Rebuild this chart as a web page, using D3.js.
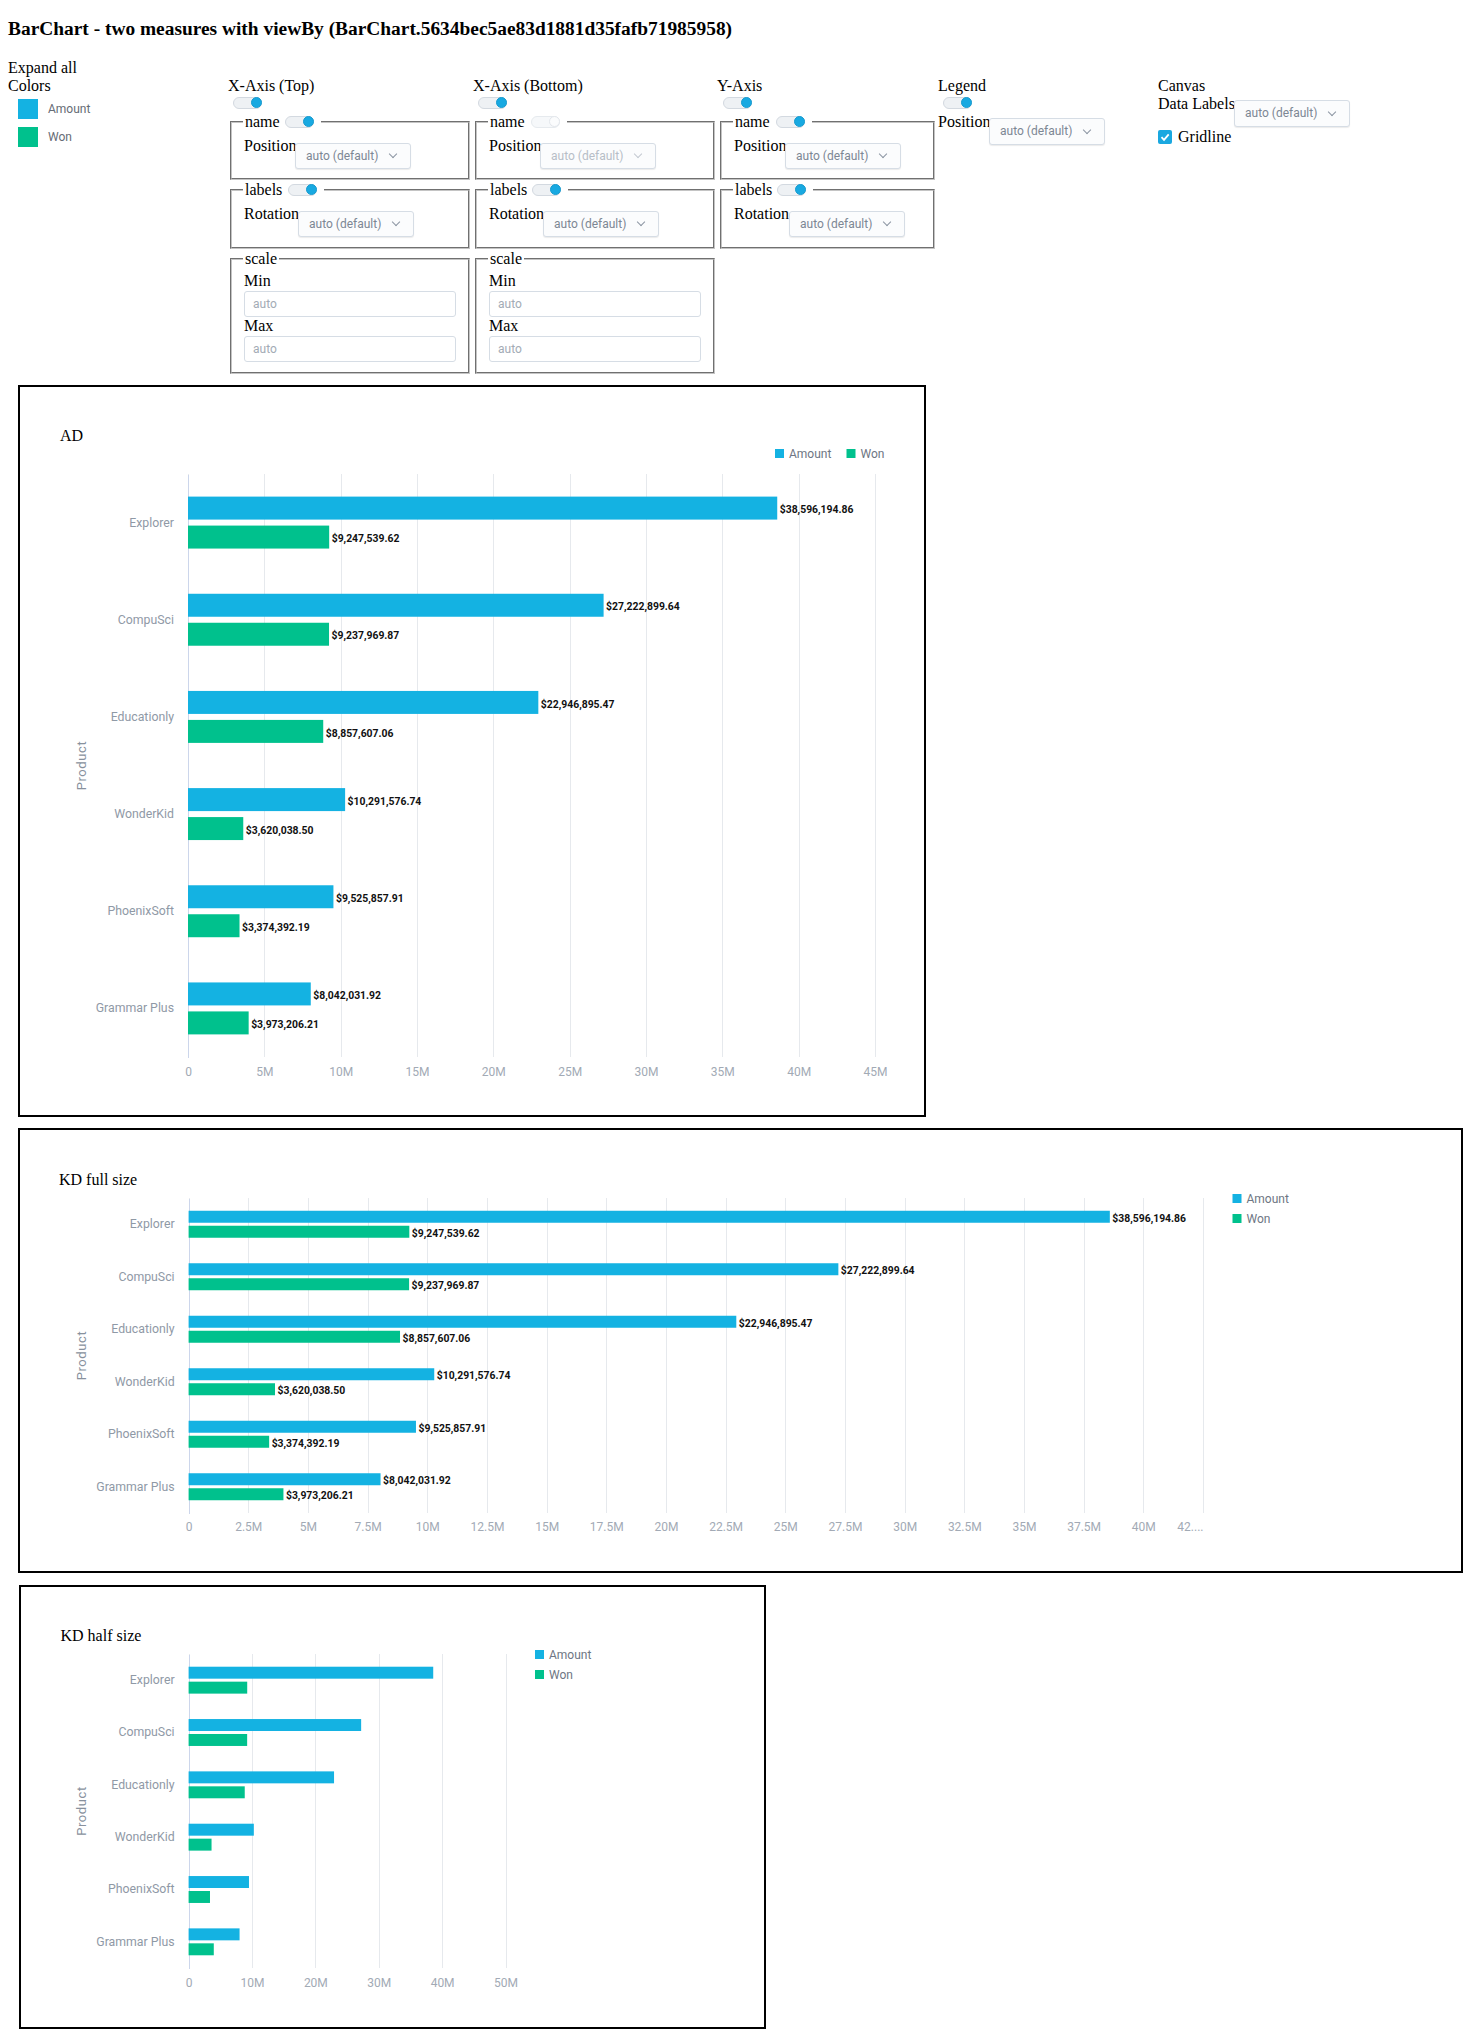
<!DOCTYPE html>
<html>
<head>
<meta charset="utf-8">
<script src="https://cdn.jsdelivr.net/npm/d3@7"></script>
<style>
  html, body { margin:0; padding:0; background:#fff; }
  body { position:relative; width:1464px; height:2040px; overflow:hidden; font-family:"Liberation Serif","Times New Roman",serif; }
  .abs { position:absolute; white-space:nowrap; }
  .ser { font-size:16px; line-height:18px; color:#000; }
  .title { font-size:19.4px; font-weight:bold; line-height:22px; }
  .tog { position:absolute; width:27px; height:10px; border:1px solid #d3d9e0; border-radius:6px; background:#eef1f4; }
  .tog .knob { position:absolute; right:-1px; top:-1px; width:11px; height:11px; border-radius:50%; background:#18a9e1; border:0.5px solid #169bd0; box-sizing:border-box; }
  .tog.off .knob { background:#fbfcfd; border:1px solid #e3e7ec; }
  .tog.off { background:#f6f8fa; border-color:#e6eaee; }
  .box { position:absolute; border:2px groove #c4c4c4; box-sizing:border-box; }
  .leg { position:absolute; background:#fff; padding:0 2px; font-size:16px; line-height:18px; }
  .sel { position:absolute; box-sizing:border-box; border:1px solid #d6dde5; border-radius:3px; background:#fbfcfd; box-shadow:0 1px 1px rgba(0,0,0,0.08); font-family:Roboto,sans-serif; font-size:12px; color:#7d8794; padding-left:10px; }
  .sel.dis { color:#b7bec7; }
  .sel .chev { position:absolute; right:14px; width:5px; height:5px; border-right:1px solid #8c96a2; border-bottom:1px solid #8c96a2; transform:rotate(45deg); }
  .sel.dis .chev { border-color:#c3c9d0; }
  .inp { position:absolute; box-sizing:border-box; border:1px solid #d6dde5; border-radius:3px; background:#fff; font-family:Roboto,sans-serif; font-size:12px; color:#a3abb5; padding-left:8px; }
  .sw { position:absolute; width:20px; height:20px; }
  .swl { position:absolute; font-family:Roboto,sans-serif; font-size:12px; color:#666c75; line-height:14px; }
  .chk { position:absolute; width:14px; height:14px; border-radius:2px; background:#1aa8e0; }
  svg#charts { position:absolute; left:0; top:0; }
</style>
</head>
<body>
<div id="ui"></div>
<svg id="charts" width="1464" height="2040"></svg>
<script>
// ---------------- DATA ----------------
const categories = ["Explorer", "CompuSci", "Educationly", "WonderKid", "PhoenixSoft", "Grammar Plus"];
const seriesNames = ["Amount", "Won"];
const amountValues = [38596194.86, 27222899.64, 22946895.47, 10291576.74, 9525857.91, 8042031.92];
const wonValues = [9247539.62, 9237969.87, 8857607.06, 3620038.50, 3374392.19, 3973206.21];
const seriesColors = ["#14B2E2", "#00C18D"];

const ticksAD = [0, 5e6, 10e6, 15e6, 20e6, 25e6, 30e6, 35e6, 40e6, 45e6];
const tickLabelsAD = ["0", "5M", "10M", "15M", "20M", "25M", "30M", "35M", "40M", "45M"];
const ticksFull = [0, 2.5e6, 5e6, 7.5e6, 10e6, 12.5e6, 15e6, 17.5e6, 20e6, 22.5e6, 25e6, 27.5e6, 30e6, 32.5e6, 35e6, 37.5e6, 40e6, 42.5e6];
const tickLabelsFull = ["0", "2.5M", "5M", "7.5M", "10M", "12.5M", "15M", "17.5M", "20M", "22.5M", "25M", "27.5M", "30M", "32.5M", "35M", "37.5M", "40M", "42...."];
const ticksHalf = [0, 10e6, 20e6, 30e6, 40e6, 50e6];
const tickLabelsHalf = ["0", "10M", "20M", "30M", "40M", "50M"];

const chartTitles = ["AD", "KD full size", "KD half size"];
const axisTitle = "Product";
const pageTitle = "BarChart - two measures with viewBy (BarChart.5634bec5ae83d1881d35fafb71985958)";

// ---------------- UI PANEL ----------------
const ui = d3.select("#ui");
function text(x, yc, s, cls, extra) {
  const e = ui.append("div").attr("class", "abs " + (cls || "ser")).style("left", x + "px").style("top", (yc - 9) + "px").text(s);
  if (extra) extra(e);
  return e;
}
function toggle(x, y, off) {
  const t = ui.append("div").attr("class", "tog" + (off ? " off" : "")).style("left", x + "px").style("top", y + "px");
  t.append("div").attr("class", "knob");
}
function select(x, y, w, h, dis) {
  const s = ui.append("div").attr("class", "sel" + (dis ? " dis" : "")).style("left", x + "px").style("top", y + "px")
    .style("width", w + "px").style("height", h + "px").style("line-height", (h - 2) + "px").text("auto (default)");
  s.append("div").attr("class", "chev").style("top", ((h - 2) / 2 - 5) + "px");
}
function input(x, y, w, h) {
  ui.append("div").attr("class", "inp").style("left", x + "px").style("top", y + "px")
    .style("width", w + "px").style("height", h + "px").style("line-height", (h - 2) + "px").text("auto");
}
function fieldset(x, y, w, h) {
  ui.append("div").attr("class", "box").style("left", x + "px").style("top", y + "px").style("width", w + "px").style("height", h + "px");
}
function legendLabel(x, yc, s, togX, togOff) {
  const w = ui.append("div").attr("class", "leg").style("left", x + "px").style("top", (yc - 9) + "px");
  w.append("span").text(s);
  w.append("span").style("display", "inline-block").style("width", (togX - x - 2 - measure(s) + 34) + "px");
  toggle(togX, yc - 6, togOff);
}
const meas = document.createElement("canvas").getContext("2d");
function measure(s) { meas.font = "16px 'Liberation Serif'"; return meas.measureText(s).width; }

ui.append("div").attr("class", "abs title").style("left", "8px").style("top", "18px").text(pageTitle);
text(8, 68, "Expand all");
text(8, 86, "Colors");
seriesNames.forEach((n, i) => {
  ui.append("div").attr("class", "sw").style("left", "18px").style("top", (99 + i * 28) + "px").style("background", seriesColors[i]);
  ui.append("div").attr("class", "swl").style("left", "48px").style("top", (102 + i * 28) + "px").text(n);
});

// columns
const cols = [
  { label: "X-Axis (Top)", lx: 228, tx: 233, fx: 230, fw: 240, nameTog: 285, namOff: false, posSel: [295, 143], labTog: 288, rotSel: [298, 211], scale: true },
  { label: "X-Axis (Bottom)", lx: 473, tx: 478, fx: 475, fw: 240, nameTog: 531, namOff: true, posSel: [540, 143], labTog: 532, rotSel: [543, 211], scale: true },
  { label: "Y-Axis", lx: 717, tx: 723, fx: 720, fw: 215, nameTog: 776, namOff: false, posSel: [785, 143], labTog: 777, rotSel: [789, 211], scale: false }
];
cols.forEach(c => {
  text(c.lx, 86, c.label);
  toggle(c.tx, 97, false);
  fieldset(c.fx, 121, c.fw, 59);
  legendLabel(c.fx + 13, 122, "name", c.nameTog, c.namOff);
  text(c.fx + 14, 146, "Position");
  select(c.posSel[0], c.posSel[1], 116, 26, c.namOff);
  fieldset(c.fx, 189, c.fw, 60);
  legendLabel(c.fx + 13, 190, "labels", c.labTog, false);
  text(c.fx + 14, 214, "Rotation");
  select(c.rotSel[0], c.rotSel[1], 116, 26, false);
  if (c.scale) {
    fieldset(c.fx, 258, c.fw, 116);
    ui.append("div").attr("class", "leg").style("left", (c.fx + 13) + "px").style("top", "250px").text("scale");
    text(c.fx + 14, 281, "Min");
    input(c.fx + 14, 291, 212, 26);
    text(c.fx + 14, 326, "Max");
    input(c.fx + 14, 336, 212, 26);
  }
});
// Legend column
text(938, 86, "Legend");
toggle(943, 97, false);
text(938, 122, "Position");
select(989, 118, 116, 27, false);
// Canvas column
text(1158, 86, "Canvas");
text(1158, 104, "Data Labels");
select(1234, 100, 116, 27, false);
const ck = ui.append("div").attr("class", "chk").style("left", "1158px").style("top", "130px");
ck.append("svg").attr("width", 14).attr("height", 14).append("path").attr("d", "M3.5 7.2 L6 9.8 L10.7 4.3")
  .attr("fill", "none").attr("stroke", "#fff").attr("stroke-width", 1.8);
text(1178, 137, "Gridline");

// ---------------- CHARTS ----------------
const svg = d3.select("#charts");
const rows = categories.map((c, i) => ({ cat: c, values: [amountValues[i], wonValues[i]] }));
const fmt = v => "$" + d3.format(",.2f")(v);

const configs = [
  { title: chartTitles[0], box: [19, 386, 906, 730], titlePos: [60, 435], xr: [188, 875], ticks: ticksAD, tickLabels: tickLabelsAD,
    yr: [474, 1057], innerPad: 0.207, outerPad: 0.78, legend: "h", legendPos: [775, 449], labels: true, tickY: 1072, prodX: 81 },
  { title: chartTitles[1], box: [19, 1129, 1443, 443], titlePos: [59, 1179], xr: [188.6, 1203], ticks: ticksFull, tickLabels: tickLabelsFull,
    yr: [1198, 1513], innerPad: 0.2, outerPad: 0.85, legend: "v", legendPos: [1232.5, 1194], labels: true, tickY: 1527, prodX: 81 },
  { title: chartTitles[2], box: [20, 1586, 745, 442], titlePos: [60.5, 1635], xr: [188.6, 505.5], ticks: ticksHalf, tickLabels: tickLabelsHalf,
    yr: [1654, 1968], innerPad: 0.2, outerPad: 0.85, legend: "v", legendPos: [535, 1650], labels: false, tickY: 1983, prodX: 81 }
];

configs.forEach(cfg => {
  const g = svg.append("g");
  g.append("rect").attr("x", cfg.box[0]).attr("y", cfg.box[1]).attr("width", cfg.box[2]).attr("height", cfg.box[3])
    .attr("fill", "none").attr("stroke", "#000").attr("stroke-width", 2);
  g.append("text").attr("x", cfg.titlePos[0]).attr("y", cfg.titlePos[1]).attr("dy", "0.35em")
    .attr("font-family", "'Liberation Serif', serif").attr("font-size", 16).attr("fill", "#000").text(cfg.title);

  const x = d3.scaleLinear().domain([0, cfg.ticks[cfg.ticks.length - 1]]).range(cfg.xr);
  const y = d3.scaleBand().domain(categories).range(cfg.yr).padding(0);
  const yi = d3.scaleBand().domain(seriesNames).range([0, y.step()]).paddingInner(cfg.innerPad).paddingOuter(cfg.outerPad);

  // gridlines
  const grid = d3.axisBottom(x).tickValues(cfg.ticks).tickSize(-(cfg.yr[1] - cfg.yr[0])).tickFormat("");
  const gg = g.append("g").attr("transform", `translate(0,${cfg.yr[1]})`).call(grid);
  gg.select(".domain").remove();
  gg.selectAll("line").attr("stroke", "#e6e9ed").attr("stroke-width", 1).attr("shape-rendering", "crispEdges");

  // x tick labels (a truncated label is end-anchored at its tick)
  const xa = d3.axisBottom(x).tickValues(cfg.ticks).tickSize(0).tickPadding(0).tickFormat((d, i) => cfg.tickLabels[i]);
  const xg = g.append("g").attr("transform", `translate(0,${cfg.tickY})`).call(xa);
  xg.select(".domain").remove();
  xg.selectAll("text").attr("dy", "0.35em").attr("font-family", "Roboto, sans-serif").attr("font-size", 12).attr("fill", "#a2aab5")
    .attr("text-anchor", (d, i) => cfg.tickLabels[i].endsWith("....") ? "end" : "middle");

  // y axis
  const ya = d3.axisLeft(y).tickSize(0).tickPadding(14);
  const yg = g.append("g").attr("transform", `translate(${cfg.xr[0]},0)`).call(ya);
  yg.select(".domain").attr("stroke", "#ccd6eb").attr("shape-rendering", "crispEdges");
  yg.selectAll("text").attr("font-family", "Roboto, sans-serif").attr("font-size", 12.3).attr("fill", "#8f99a6");

  g.append("text").attr("transform", `translate(${cfg.prodX},${(cfg.yr[0] + cfg.yr[1]) / 2}) rotate(-90)`)
    .attr("text-anchor", "middle").attr("dy", "0.35em").attr("font-family", "Roboto, sans-serif").attr("font-size", 13)
    .attr("letter-spacing", "0.6px").attr("fill", "#88919d").text(axisTitle);

  // bars
  const grp = g.selectAll(".cat").data(rows).enter().append("g").attr("transform", d => `translate(0,${y(d.cat)})`);
  grp.selectAll("rect").data(d => d.values.map((v, i) => ({ v, s: seriesNames[i], i }))).enter().append("rect")
    .attr("x", x(0)).attr("y", d => yi(d.s)).attr("width", d => x(d.v) - x(0)).attr("height", yi.bandwidth())
    .attr("fill", d => seriesColors[d.i]);
  if (cfg.labels) {
    grp.selectAll("text.dl").data(d => d.values.map((v, i) => ({ v, s: seriesNames[i], i }))).enter().append("text")
      .attr("class", "dl").attr("x", d => x(d.v) + 2.5).attr("y", d => yi(d.s) + yi.bandwidth() / 2 + 1.5).attr("dy", "0.35em")
      .attr("font-family", "Roboto, sans-serif").attr("font-weight", "bold").attr("font-size", 10.4).attr("fill", "#111").text(d => fmt(d.v));
  }

  // legend
  const lg = g.append("g");
  seriesNames.forEach((n, i) => {
    let lx, ly;
    if (cfg.legend === "h") { lx = cfg.legendPos[0] + i * 71.5; ly = cfg.legendPos[1]; }
    else { lx = cfg.legendPos[0]; ly = cfg.legendPos[1] + i * 20; }
    lg.append("rect").attr("x", lx).attr("y", ly).attr("width", 9).attr("height", 9).attr("fill", seriesColors[i]);
    lg.append("text").attr("x", lx + 14).attr("y", ly + 4.5).attr("dy", "0.35em").attr("font-family", "Roboto, sans-serif")
      .attr("font-size", 12).attr("fill", "#6e7683").text(n);
  });
});
</script>
</body>
</html>
